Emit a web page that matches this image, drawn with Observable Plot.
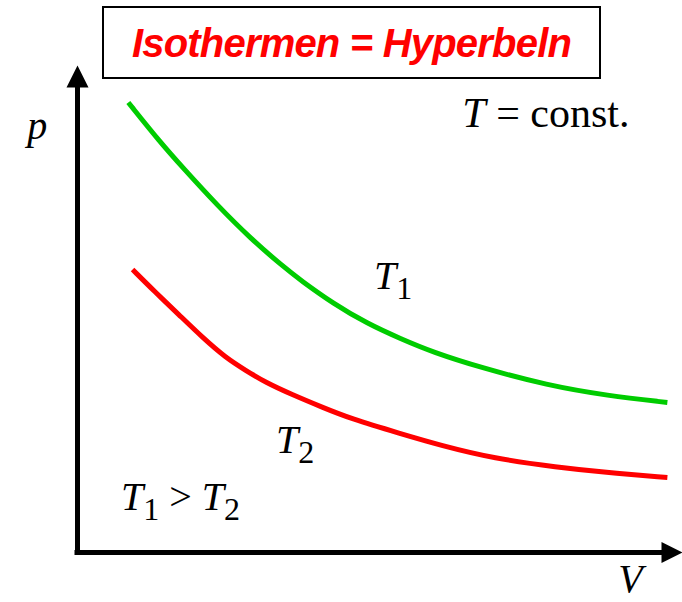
<!DOCTYPE html>
<html>
<head>
<meta charset="utf-8">
<script src="https://cdn.jsdelivr.net/npm/d3@7"></script>
<script src="https://cdn.jsdelivr.net/npm/@observablehq/plot@0.6"></script>
<style>
  html, body { margin: 0; padding: 0; background: #fff; }
  #wrap { position: relative; width: 682px; height: 602px; overflow: hidden; }
  #title {
    position: absolute; left: 102px; top: 6px; width: 495px;
    border: 2px solid #000; background: #fff;
    display: flex; align-items: center; justify-content: center;
    font-family: "Liberation Sans", Arial, sans-serif; font-weight: bold; font-style: italic;
    font-size: 40px; color: #ff0000; letter-spacing: -0.8px; box-sizing: content-box;
    padding-top: 2px; height: 67px;
  }
</style>
</head>
<body>
<div id="wrap">
  <div id="title">Isothermen = Hyperbeln</div>
</div>
<script>
// Isotherm T1 (green): volume V, pressure p (arbitrary units)
const t1V = [8.4, 13.7, 17.5, 23.1, 28.6, 34.0, 36.9, 42.3, 47.9, 53.4, 58.8, 66.6, 77.7, 87.6, 97.5];
const t1P = [92.4, 84.2, 78.9, 71.3, 64.5, 58.7, 55.9, 51.1, 47.0, 43.9, 41.1, 38.0, 34.3, 32.2, 30.8];
// Isotherm T2 (red)
const t2V = [9.1, 12.9, 16.7, 20.7, 24.5, 27.8, 31.1, 35.5, 40.5, 45.1, 53.4, 60.0, 68.8, 79.3, 87.6, 97.5];
const t2P = [58.1, 53.4, 48.9, 44.1, 40.0, 37.4, 34.9, 32.4, 29.8, 27.5, 24.4, 22.0, 19.3, 17.5, 16.4, 15.4];

const seriesNames = ["T1", "T2"];
const seriesColors = ["#00cc00", "#ff0000"];

// Axis extents (data units)
const vMax = 100;
const pMax = 100;

// Annotation labels: text, anchor V, anchor p ("_" marks a subscript)
const labelText = ["p", "V", "T = const.", "T_1", "T_2", "T_1 > T_2"];
const labelV = [-8.3, 89.4, 63.6, 49.0, 32.8, 7.2];
const labelP = [85.0, -8.2, 87.3, 54.2, 20.5, 8.8];
const labelSize = [40, 40, 42, 40, 40, 40];

const curves = [
  ...t1V.map((v, i) => ({series: seriesNames[0], V: v, p: t1P[i]})),
  ...t2V.map((v, i) => ({series: seriesNames[1], V: v, p: t2P[i]}))
];
const labels = labelText.map((t, i) => ({text: t, V: labelV[i], p: labelP[i], size: labelSize[i]}));

// filled arrowheads as custom symbols (tip at the anchor point)
const arrowUp = {draw(ctx, size) { const r = Math.sqrt(size / Math.PI); ctx.moveTo(0, 0); ctx.lineTo(-r, 2 * r); ctx.lineTo(r, 2 * r); ctx.closePath(); }};
const arrowRight = {draw(ctx, size) { const r = Math.sqrt(size / Math.PI); ctx.moveTo(0, 0); ctx.lineTo(-2 * r, -r); ctx.lineTo(-2 * r, r); ctx.closePath(); }};

const chart = Plot.plot({
  width: 682,
  height: 602,
  margin: 0,
  x: {domain: [0, vMax], range: [77, 682], axis: null},
  y: {domain: [0, pMax], range: [552, 65], axis: null},
  color: {domain: seriesNames, range: seriesColors},
  style: {fontFamily: "'Liberation Serif', 'Times New Roman', serif", fontSize: "40px", background: "transparent", overflow: "visible"},
  marks: [
    Plot.line(curves, {x: "V", y: "p", z: "series", stroke: "series", strokeWidth: 5, curve: "basis", strokeLinecap: "butt"}),
    Plot.ruleY([0], {x1: 0, x2: vMax * 0.98, stroke: "#000", strokeWidth: 5, strokeLinecap: "square"}),
    Plot.ruleX([0], {y1: 0, y2: pMax * 0.97, stroke: "#000", strokeWidth: 5, strokeLinecap: "square"}),
    Plot.dot([{V: 0, p: pMax}], {x: "V", y: "p", r: 11, symbol: arrowUp, fill: "#000", stroke: "none"}),
    Plot.dot([{V: vMax, p: 0}], {x: "V", y: "p", r: 10.5, symbol: arrowRight, fill: "#000", stroke: "none"}),
    Plot.text(labels, {x: "V", y: "p", text: "text", fontSize: "size", textAnchor: "start", lineAnchor: "bottom", fill: "#000"})
  ]
});

// Rich text: single letters italic, "_d" subscripts upright and smaller
const SUB = 10, SUBSIZE = 32;
chart.querySelectorAll("text").forEach(t => {
  const s = t.textContent;
  const tokens = s.match(/_\d|[A-Za-z]+|[^A-Za-z_]+/g);
  if (!tokens) return;
  while (t.firstChild) t.removeChild(t.firstChild);
  let shifted = false;
  tokens.forEach(tok => {
    const ts = document.createElementNS("http://www.w3.org/2000/svg", "tspan");
    if (tok.startsWith("_")) {
      ts.textContent = tok.slice(1);
      ts.setAttribute("font-size", SUBSIZE);
      ts.setAttribute("font-style", "normal");
      ts.setAttribute("dy", SUB);
      shifted = true;
    } else {
      ts.textContent = tok;
      ts.setAttribute("font-style", /^[A-Za-z]$/.test(tok) ? "italic" : "normal");
      if (shifted) { ts.setAttribute("dy", -SUB); shifted = false; }
    }
    t.appendChild(ts);
  });
  t.style.whiteSpace = "pre";
});

chart.style.position = "absolute";
chart.style.left = "0";
chart.style.top = "0";
document.getElementById("wrap").insertBefore(chart, document.getElementById("title"));
</script>
</body>
</html>
